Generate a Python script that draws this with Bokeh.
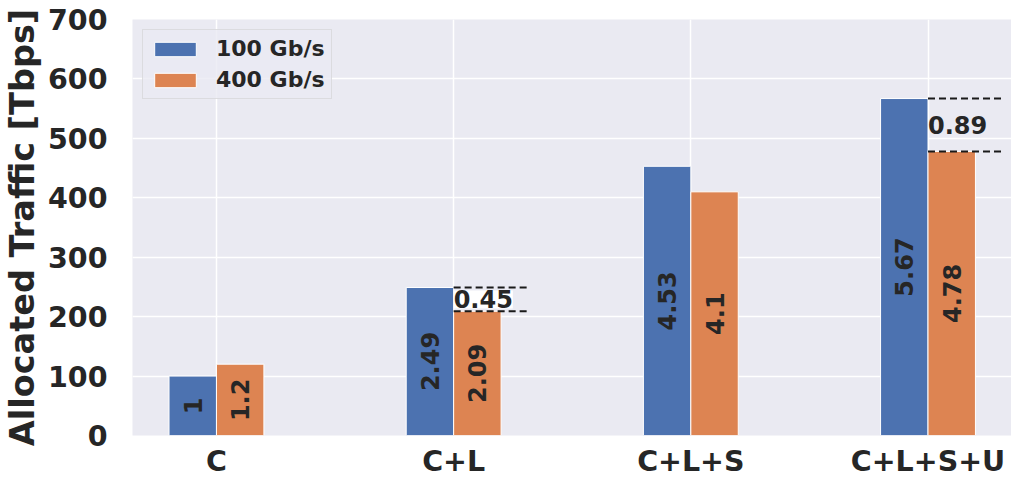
import numpy as np
from bokeh.plotting import figure
from bokeh.models import ColumnDataSource, Range1d, FixedTicker, Legend, LegendItem, Label
from bokeh.core.properties import value
from bokeh.embed import file_html
from bokeh.resources import INLINE

# ---- data ----
categories = ["C", "C+L", "C+L+S", "C+L+S+U"]
traffic_100g = [100, 249, 453, 567]
traffic_400g = [120, 209, 410, 478]
labels_100g = ["1", "2.49", "4.53", "5.67"]
labels_400g = ["1.2", "2.09", "4.1", "4.78"]
gap_categories = [1, 3]
gap_labels = ["0.45", "0.89"]
gap_boxed = [True, False]
y_ticks = [0, 100, 200, 300, 400, 500, 600, 700]

FONT = "DejaVu Sans"
TXT = "#262626"
BLUE = "#4C72B0"
ORANGE = "#DD8452"
BG = "#EAEAF2"

x = np.arange(len(categories))
bw = 0.2

p = figure(width=1011, height=481, output_backend="svg", toolbar_location=None,
           x_range=Range1d(-0.354, 3.352), y_range=Range1d(0, 700),
           min_border_left=130, min_border_right=0, min_border_top=19, min_border_bottom=46)
p.background_fill_color = BG
p.border_fill_color = "white"
p.outline_line_color = None

src1 = ColumnDataSource(dict(x=x - bw / 2, top=traffic_100g, lab=labels_100g,
                             mid=[v / 2 for v in traffic_100g]))
src2 = ColumnDataSource(dict(x=x + bw / 2, top=traffic_400g, lab=labels_400g,
                             mid=[v / 2 for v in traffic_400g]))

r1 = p.vbar(x="x", top="top", width=bw, source=src1, fill_color=BLUE, line_color="white", line_width=1)
r2 = p.vbar(x="x", top="top", width=bw, source=src2, fill_color=ORANGE, line_color="white", line_width=1)

for s in (src1, src2):
    p.text(x="x", y="mid", text="lab", source=s, angle=np.pi / 2, text_align="center",
           text_baseline="middle", text_font=value(FONT), text_font_style="bold",
           text_font_size="24px", text_color=TXT)

# gap annotations
for ci, lab, boxed in zip(gap_categories, gap_labels, gap_boxed):
    hi = traffic_100g[ci]
    lo = traffic_400g[ci]
    p.segment(x0=[ci, ci], y0=[hi, lo], x1=[ci + 0.31, ci + 0.31], y1=[hi, lo],
              line_color="#1a1a1a", line_width=2, line_dash="7 4")
    lbl = Label(x=ci, y=(hi + lo) / 2, text=lab, text_align="left", text_baseline="middle",
                text_font=FONT, text_font_style="bold", text_font_size="24px", text_color=TXT,
                x_offset=0)
    if boxed:
        lbl.background_fill_color = "white"
    p.add_layout(lbl)

# axes
p.xaxis.ticker = FixedTicker(ticks=list(x))
p.xaxis.major_label_overrides = {int(i): c for i, c in zip(x, categories)}
p.yaxis.ticker = FixedTicker(ticks=y_ticks)
for ax in (p.xaxis, p.yaxis):
    ax.axis_line_color = None
    ax.major_tick_line_color = None
    ax.minor_tick_line_color = None
    ax.major_label_text_font = FONT
    ax.major_label_text_font_style = "bold"
    ax.major_label_text_font_size = "28.5px"
    ax.major_label_text_color = TXT
p.xaxis.major_label_standoff = 3
p.yaxis.major_label_standoff = 19
p.yaxis.axis_label = "Allocated Traffic [Tbps]"
p.yaxis.axis_label_text_font = FONT
p.yaxis.axis_label_text_font_style = "bold"
p.yaxis.axis_label_text_font_size = "33.5px"
p.yaxis.axis_label_text_color = TXT
p.yaxis.axis_label_standoff = 3

p.xgrid.grid_line_color = "white"
p.ygrid.grid_line_color = "white"
p.xgrid.grid_line_width = 1.5
p.ygrid.grid_line_width = 1.5
p.xgrid.ticker = FixedTicker(ticks=list(x))

legend = Legend(items=[LegendItem(label="100 Gb/s", renderers=[r1]),
                       LegendItem(label="400 Gb/s", renderers=[r2])],
                location="top_left")
legend.margin = 10
legend.padding = 6
legend.spacing = 6
legend.glyph_width = 52
legend.glyph_height = 18
legend.label_standoff = 15
legend.label_text_font = FONT
legend.label_text_font_style = "bold"
legend.label_text_font_size = "22px"
legend.label_text_color = TXT
legend.background_fill_color = BG
legend.background_fill_alpha = 0.8
legend.border_line_color = "#CCCCCC"
legend.border_line_width = 1
p.add_layout(legend, "center")

open("out.html", "w").write(file_html(p, INLINE))
